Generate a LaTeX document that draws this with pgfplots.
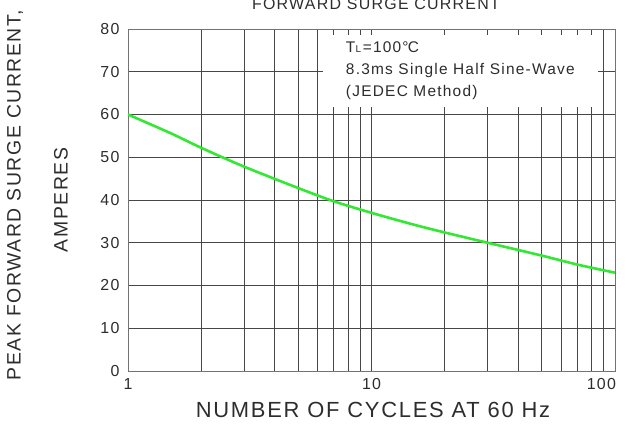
\documentclass[border=0pt]{standalone}
\usepackage{pgfplots}
\pgfplotsset{compat=1.18}
\usepackage{fontspec}
\setmainfont{Liberation Sans}[LetterSpace=8]

\definecolor{curvegreen}{RGB}{50,232,50}
\definecolor{txt}{RGB}{45,45,45}

\pgfdeclarelayer{boxlayer}
\pgfplotsset{
  layers/withbox/.define layer set={
    axis background,axis grid,boxlayer,axis ticks,axis lines,axis tick labels,
    main,axis descriptions,axis foreground
  }{
    grid style={/pgfplots/on layer=axis grid},
    tick style={/pgfplots/on layer=axis ticks},
    axis line style={/pgfplots/on layer=axis lines},
    label style={/pgfplots/on layer=axis descriptions},
    title style={/pgfplots/on layer=axis descriptions},
    ticklabel style={/pgfplots/on layer=axis tick labels},
    axis background@ style={/pgfplots/on layer=axis background},
    3d box foreground style={/pgfplots/on layer=axis foreground},
  },
}

\begin{document}
\begin{tikzpicture}[text=txt]
\begin{axis}[
    set layers=withbox,
    at={(0,0)}, anchor=south west,
    scale only axis, width=487bp, height=342bp,
    xmode=log, xmin=1, xmax=100, ymin=0, ymax=80,
    xtick={1,10,100},
    xticklabels={1,10,{\makebox[0pt][r]{100\kern-1bp}}},
    minor xtick={2,3,4,5,6,7,8,9,20,30,40,50,60,70,80,90},
    ytick={0,10,...,80},
    grid=both,
    major grid style={black!72, line width=0.8bp},
    minor grid style={black!72, line width=0.8bp},
    axis line style={black!55, line width=1bp},
    tick style={black!72, line width=0.8bp},
    major tick length=5bp, minor tick length=5bp,
    tick align=inside,
    ytick style={draw=none},
    /pgf/number format/assume math mode=true,
    ticklabel style={font=\fontsize{16}{18}\selectfont, text=txt},
    xticklabel style={yshift=-4bp},
    yticklabel style={xshift=-5bp},
]
\addplot[curvegreen, line width=2.6bp, smooth] coordinates {
    (1,60) (1.5,55.6) (2,52.2) (3,47.8) (5,42.8) (7,39.7) (10,37)
    (15,34.2) (20,32.4) (30,30) (50,27) (70,24.9) (100,23)
};
\begin{pgfonlayer}{boxlayer}
  \fill[white] (axis cs:6.3,61.8) rectangle (axis cs:85,78.6);
\end{pgfonlayer}
\node[anchor=base west, font=\fontsize{15.5}{17}\selectfont] at (axis cs:7.6,74.4)
  {T\kern0.3bp{\fontsize{10}{10}\selectfont L}\kern1.5bp=100°\kern-0.8bp C};
\node[anchor=base west, font=\fontsize{15.5}{17}\selectfont] at (axis cs:7.6,69.4)
  {8.3ms Single Half Sine-Wave};
\node[anchor=base west, font=\fontsize{15.5}{17}\selectfont] at (axis cs:7.6,64.2)
  {(JEDEC Method)};
\end{axis}

\node[font=\fontsize{22}{22}\selectfont] at (245bp,-39bp) {NUMBER OF CYCLES AT 60 Hz};
\node[font=\fontsize{16}{16}\selectfont, anchor=base] at (248bp,361bp) {FORWARD SURGE CURRENT};
\node[font=\fontsize{19.5}{20}\selectfont, rotate=90] at (-113bp,176bp) {PEAK FORWARD SURGE CURRENT,};
\node[font=\fontsize{19.5}{20}\selectfont, rotate=90] at (-67bp,171bp) {AMPERES};

\pgfresetboundingbox
\path (-128bp,-54bp) rectangle (500bp,371bp);
\end{tikzpicture}
\end{document}
